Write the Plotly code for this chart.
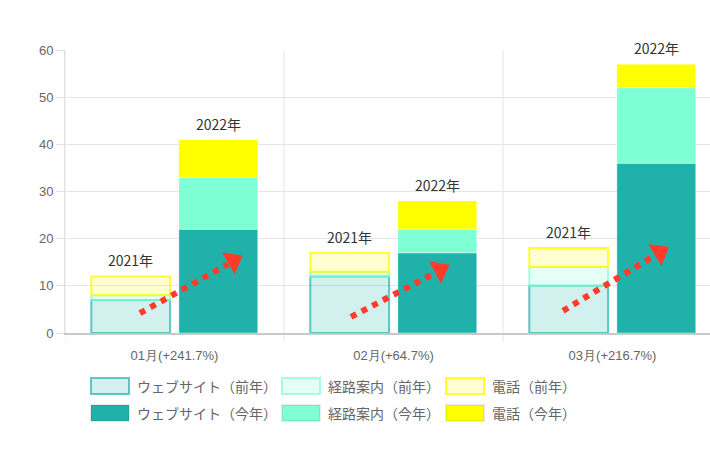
import plotly.graph_objects as go
import math

# ---------------- data ----------------
months = ["01月", "02月", "03月"]
growth = ["+241.7%", "+64.7%", "+216.7%"]
series_names = ["ウェブサイト", "経路案内", "電話"]
prev_year_label = "2021年"
this_year_label = "2022年"
web_prev = [7, 12, 10]
route_prev = [1, 1, 4]
phone_prev = [4, 4, 4]
web_curr = [22, 17, 36]
route_curr = [11, 5, 16]
phone_curr = [8, 6, 5]
y_ticks = [0, 10, 20, 30, 40, 50, 60]

# ---------------- style ----------------
W, H = 710, 460
ML, MR, MT, MB = 65, 0, 50, 127
PW = W - ML - MR
PH = H - MT - MB
CAT_PX = 219.0
X0 = -0.5
X1 = X0 + PW / CAT_PX
YMAX = 60

prev_fill = ["rgba(32,178,170,0.2)", "rgba(127,255,212,0.2)", "rgba(255,255,0,0.18)"]
prev_line = ["rgba(32,178,170,0.7)", "rgba(127,255,212,0.7)", "rgba(255,255,0,0.8)"]
curr_fill = ["#20b2aa", "#7fffd4", "#ffff00"]
curr_line = ["rgba(255,255,255,0.35)", "rgba(255,255,255,0.35)", "rgba(255,255,255,0.35)"]

BAR_W = 0.36
OFF = 0.2
FONT = "Liberation Sans, Arial, sans-serif"
JFONT = "Noto Sans CJK JP, Liberation Sans, sans-serif"

fig = go.Figure()

xs = list(range(len(months)))
prev_stack = [web_prev, route_prev, phone_prev]
curr_stack = [web_curr, route_curr, phone_curr]


def add_stack(stack, offset, fills, lines, lw):
    base = [0] * len(months)
    for i, vals in enumerate(stack):
        fig.add_trace(go.Bar(
            x=[x + offset for x in xs], y=vals, base=list(base), width=BAR_W,
            marker=dict(color=fills[i], line=dict(color=lines[i], width=lw)),
            showlegend=False, hoverinfo="skip"))
        base = [b + v for b, v in zip(base, vals)]
    return base


tot_prev = add_stack(prev_stack, -OFF, prev_fill, prev_line, 2)
tot_curr = add_stack(curr_stack, OFF, curr_fill, curr_line, 1)

# year labels above bars
for i in xs:
    fig.add_annotation(x=i - OFF, y=tot_prev[i], text=prev_year_label, showarrow=False,
                       yanchor="bottom", yshift=4, font=dict(family=JFONT, size=14, color="#333"))
    fig.add_annotation(x=i + OFF, y=tot_curr[i], text=this_year_label, showarrow=False,
                       yanchor="bottom", yshift=4, font=dict(family=JFONT, size=14, color="#333"))

# red dotted growth arrows (start, end of shaft, head centre) in data coordinates
arrows = [
    ((-0.158, 4.2), (0.245, 14.6), (0.268, 15.3)),
    ((0.806, 3.4), (1.185, 12.6), (1.212, 13.4)),
    ((1.774, 4.7), (2.185, 16.2), (2.215, 17.1)),
]
for (s, e, hc) in arrows:
    fig.add_trace(go.Scatter(x=[s[0], e[0]], y=[s[1], e[1]], mode="lines",
                             line=dict(color="#ff3b2a", width=6, dash="dot"),
                             showlegend=False, hoverinfo="skip"))
    dxp = (hc[0] - s[0]) * CAT_PX
    dyp = (hc[1] - s[1]) * PH / YMAX
    ang = math.degrees(math.atan2(dxp, dyp))
    fig.add_trace(go.Scatter(x=[hc[0]], y=[hc[1]], mode="markers",
                             marker=dict(symbol="triangle-up", size=22, angle=ang,
                                         color="#ff3b2a", line=dict(width=0)),
                             showlegend=False, hoverinfo="skip"))

# vertical category grid lines
for b in [-0.5, 0.5, 1.5, 2.5]:
    if b <= X1:
        fig.add_shape(type="line", xref="x", yref="paper", x0=b, x1=b,
                      y0=-9 / PH, y1=1, line=dict(color="#e5e5e5", width=1), layer="below")


def px_x(p):
    return (p - ML) / PW


def px_y(p):
    return (H - MB - p) / PH


# manual legend
col_box_x = [91, 282, 446]
row_y = [378, 405]
box_w, box_h = 38, 16
for r in range(2):
    for c in range(3):
        if r == 0:
            fill, line, lw = prev_fill[c], prev_line[c], 2
            suffix = "（前年）"
        else:
            fill, line, lw = curr_fill[c], "rgba(0,0,0,0.08)", 2
            suffix = "（今年）"
        x0 = col_box_x[c]
        y0 = row_y[r]
        fig.add_shape(type="rect", xref="paper", yref="paper",
                      x0=px_x(x0), x1=px_x(x0 + box_w), y0=px_y(y0), y1=px_y(y0 + box_h),
                      fillcolor=fill, line=dict(color=line, width=lw))
        fig.add_annotation(xref="paper", yref="paper", x=px_x(x0 + box_w + 6),
                           y=px_y(y0 + box_h / 2), text=series_names[c] + suffix,
                           showarrow=False, xanchor="left", yanchor="middle",
                           font=dict(family=JFONT, size=14, color="#666"))

fig.update_layout(
    width=W, height=H,
    margin=dict(l=ML, r=MR, t=MT, b=MB),
    plot_bgcolor="white", paper_bgcolor="white",
    barmode="overlay",
    showlegend=False,
    xaxis=dict(range=[X0, X1], tickvals=xs,
               ticktext=[m + "(" + g + ")" for m, g in zip(months, growth)],
               showgrid=False, zeroline=False, showline=True, linecolor="#c8c8c8",
               linewidth=2, ticks="outside", ticklen=9, tickcolor="rgba(0,0,0,0)",
               tickfont=dict(family=FONT, size=13, color="#666")),
    yaxis=dict(range=[0, YMAX], tickvals=y_ticks, showgrid=True, gridcolor="#e5e5e5",
               zeroline=False, showline=True, linecolor="#e0e0e0", linewidth=1,
               ticks="outside", ticklen=8, tickcolor="#e0e0e0",
               tickfont=dict(family=FONT, size=13, color="#666")),
)

fig.write_html("out.html")
